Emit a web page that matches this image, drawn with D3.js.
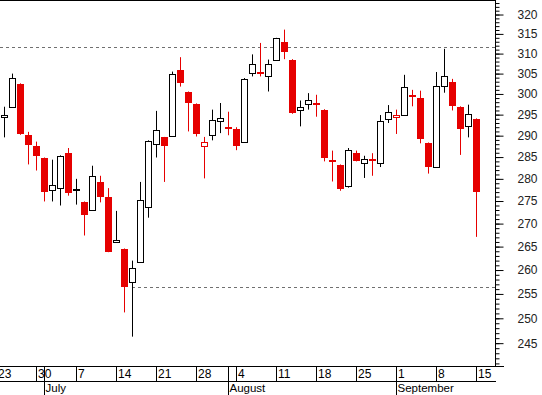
<!DOCTYPE html>
<html>
<head>
<meta charset="utf-8">
<script src="https://cdn.jsdelivr.net/npm/d3@7"></script>
<style>
body { margin: 0; background: #fff; }
svg { display: block; font-family: "Liberation Sans", Arial, sans-serif; }
</style>
</head>
<body>
<div id="chart"></div>
<script>

// daily OHLC, 24 June -> 15 September 2003 (one value per weekday)
var open  = [294.4, 296.8, 302.5, 290.2, 287.6, 284.8, 277.5, 277.9, 285.9, 277.6,
             274.8, 273.0, 279.3, 275.9, 266.0, 264.5, 257.5, 261.7, 273.6, 288.0,
             289.6, 290.0, 306.0, 300.5, 297.6, 287.5, 290.1, 293.5, 292.1, 291.6,
             288.6, 305.1, 305.5, 304.3, 308.4, 313.0, 308.5, 296.0, 297.5, 297.9,
             296.2, 284.3, 283.2, 278.3, 285.9, 283.6, 284.5, 283.6, 293.9, 294.4,
             294.9, 299.8, 299.1, 288.3, 282.7, 301.9, 303.0, 296.9, 292.3, 294.0]
var high  = [296.9, 305.0, 302.6, 290.9, 288.6, 284.9, 284.4, 285.4, 287.1, 280.0,
             274.9, 283.0, 280.7, 277.9, 272.8, 264.6, 262.0, 279.3, 288.9, 295.9,
             289.7, 305.5, 309.1, 300.6, 297.7, 289.7, 296.2, 297.8, 295.7, 292.0,
             303.9, 309.8, 312.7, 308.5, 314.0, 316.1, 308.6, 298.4, 300.2, 299.8,
             296.3, 286.5, 283.3, 287.1, 286.5, 285.3, 285.9, 294.9, 297.3, 296.2,
             304.7, 301.0, 300.8, 288.4, 305.4, 311.2, 303.7, 297.0, 297.4, 294.1]
var low   = [289.6, 296.6, 290.2, 283.3, 281.9, 274.9, 274.9, 274.0, 276.2, 274.2,
             267.4, 272.9, 274.7, 263.8, 265.9, 251.2, 246.3, 261.6, 271.3, 284.9,
             279.3, 289.9, 301.8, 291.0, 289.8, 280.1, 288.9, 290.6, 290.1, 286.6,
             288.4, 304.3, 304.3, 300.6, 308.3, 308.6, 295.2, 292.2, 296.2, 294.5,
             284.0, 279.4, 277.3, 278.0, 284.0, 280.2, 280.7, 282.7, 293.0, 290.4,
             294.8, 297.0, 288.2, 281.2, 282.6, 300.3, 296.0, 285.5, 289.6, 267.1]
var close = [294.9, 303.9, 290.5, 287.9, 285.3, 277.1, 278.6, 285.2, 276.7, 277.2,
             271.8, 280.6, 275.8, 263.9, 266.5, 256.4, 260.4, 275.2, 288.7, 291.3,
             287.5, 304.9, 302.8, 297.9, 290.3, 288.4, 293.8, 294.2, 292.0, 287.5,
             303.6, 307.5, 305.4, 307.4, 313.9, 310.5, 295.5, 296.8, 298.5, 297.8,
             284.7, 284.2, 277.8, 286.6, 284.2, 284.6, 284.4, 293.5, 295.6, 294.9,
             301.7, 299.7, 289.1, 282.6, 302.0, 304.4, 297.0, 291.6, 295.2, 277.1]
var priorClose = 293.5   // close of 23 June, only used for the colour of the first candle

var firstDay = new Date(2003, 5, 23)
var lastDay = new Date(2003, 8, 15)
var monthNames = ["July", "August", "September"]
var yMajor = d3.range(245, 321, 5)
var yMinor = d3.range(241, 324, 1)

// horizontal dashed levels
var levels = [311.7, 256.4]
var levelFrom = [null, new Date(2003, 6, 16)]

var width = 542, height = 395
var axisX = 495, axisY = 367
var red = "#e60000"

var svg = d3.select("#chart")
    .append("svg")
    .attr("width", width)
    .attr("height", height)

var days = d3.timeDay.range(firstDay, d3.timeDay.offset(lastDay, 1))
    .filter(function(d) { return d.getDay() > 0 && d.getDay() < 6 })
var dates = days.slice(1)

var x = d3.scalePoint()
    .domain(days)
    .range([-4, 476])

var y = d3.scaleLog()
    .domain([240.3, 323.8])
    .range([axisY, 0])

// frame
svg.append("line").attr("x1", 0).attr("x2", axisX + 1).attr("y1", 0.5).attr("y2", 0.5).attr("stroke", "#000")
svg.append("line").attr("x1", axisX + 0.5).attr("x2", axisX + 0.5).attr("y1", 0).attr("y2", axisY).attr("stroke", "#000")
svg.append("line").attr("x1", 0).attr("x2", axisX + 9).attr("y1", axisY - 0.5).attr("y2", axisY - 0.5).attr("stroke", "#000")
svg.append("line").attr("x1", 0).attr("x2", axisX + 1).attr("y1", axisY + 14.5).attr("y2", axisY + 14.5).attr("stroke", "#000")

// dashed levels
svg.selectAll(".level")
    .data(levels)
    .enter()
    .append("line")
    .attr("class", "level")
    .attr("x1", function(d, i) { return levelFrom[i] ? x(levelFrom[i]) : 0 })
    .attr("x2", axisX)
    .attr("y1", function(d) { return Math.round(y(d)) + 0.5 })
    .attr("y2", function(d) { return Math.round(y(d)) + 0.5 })
    .attr("stroke", "#707070")
    .attr("stroke-dasharray", "3,3")

// y axis, minor then major ticks
svg.append("g")
    .attr("transform", "translate(" + (axisX + 0.5) + ",0)")
    .call(d3.axisRight(y).tickValues(yMinor).tickSize(4).tickFormat(""))
    .call(function(g) { g.select(".domain").remove() })

svg.append("g")
    .attr("transform", "translate(" + (axisX + 0.5) + ",0)")
    .call(d3.axisRight(y).tickValues(yMajor).tickSize(8).tickPadding(14).tickFormat(d3.format("d")))
    .call(function(g) { g.select(".domain").remove() })
    .selectAll("text")
    .attr("font-size", 12)
    .attr("font-family", "Liberation Sans, Arial, sans-serif")
    .attr("fill", "#222")

// x axis: weeks
var mondays = d3.timeMonday.range(firstDay, d3.timeDay.offset(lastDay, 1))

svg.append("g")
    .attr("transform", "translate(0," + axisY + ")")
    .call(d3.axisBottom(x).tickValues(mondays).tickSize(14).tickSizeOuter(0).tickFormat(d3.timeFormat("%-d")))
    .call(function(g) { g.select(".domain").remove() })
    .selectAll("text")
    .attr("text-anchor", "start")
    .attr("x", 1.5)
    .attr("y", 2)
    .attr("font-size", 12)
    .attr("font-family", "Liberation Sans, Arial, sans-serif")
    .attr("fill", "#000")

// x axis: months
var monthStarts = d3.timeMonth.range(firstDay, lastDay).map(function(m) {
    return days.find(function(d) { return d >= m }) })

var months = svg.selectAll(".month")
    .data(monthStarts)
    .enter()
    .append("g")
    .attr("class", "month")

months.append("line")
    .attr("x1", function(d) { return x(d) + 0.5 })
    .attr("x2", function(d) { return x(d) + 0.5 })
    .attr("y1", axisY)
    .attr("y2", height)
    .attr("stroke", "#000")

months.append("text")
    .attr("x", function(d) { return x(d) + 1.5 })
    .attr("y", 392)
    .attr("font-size", 11.5)
    .text(function(d, i) { return monthNames[i] })

// candles
var candles = dates.map(function(d, i) {
    var prev = i == 0 ? priorClose : close[i - 1]
    return { date: d, o: open[i], h: high[i], l: low[i], c: close[i],
             color: close[i] >= prev ? "#000" : red,
             filled: close[i] < open[i] }
})

var g = svg.selectAll(".candle")
    .data(candles)
    .enter()
    .append("g")
    .attr("class", "candle")

g.append("line")
    .attr("x1", function(d) { return x(d.date) + 0.5 })
    .attr("x2", function(d) { return x(d.date) + 0.5 })
    .attr("y1", function(d) { return y(d.h) })
    .attr("y2", function(d) { return y(d.l) })
    .attr("stroke", function(d) { return d.color })

g.append("rect")
    .attr("x", function(d) { return d.filled ? x(d.date) - 3 : x(d.date) - 2.5 })
    .attr("width", function(d) { return d.filled ? 7 : 6 })
    .attr("y", function(d) {
        var top = y(Math.max(d.o, d.c))
        return d.filled ? Math.round(top) : Math.round(top) + 0.5 })
    .attr("height", function(d) {
        var h = Math.round(y(Math.min(d.o, d.c))) - Math.round(y(Math.max(d.o, d.c)))
        return d.filled ? Math.max(h, 2) : Math.max(h, 1) })
    .attr("fill", function(d) { return d.filled ? d.color : "#fff" })
    .attr("stroke", function(d) { return d.filled ? "none" : d.color })
    .attr("stroke-width", 1)

</script>
</body>
</html>
